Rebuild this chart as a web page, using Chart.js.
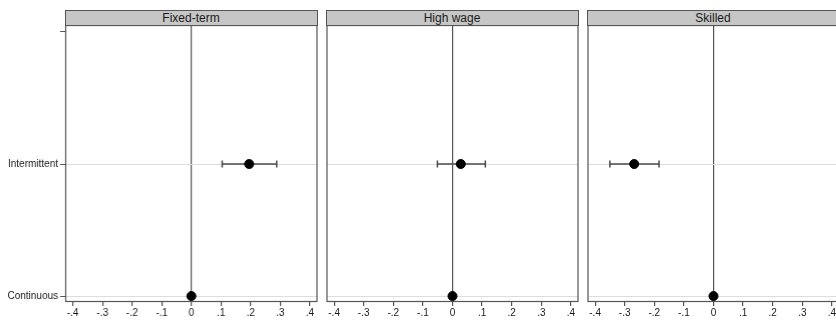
<!DOCTYPE html>
<html>
<head>
<meta charset="utf-8">
<script src="https://cdn.jsdelivr.net/npm/chart.js@4.4.1/dist/chart.umd.min.js"></script>
<style>
	html, body { margin: 0; padding: 0; background: #fff; }
	#wrap { position: relative; width: 836px; height: 320px; overflow: hidden; }
	.panel { position: absolute; top: 0; height: 320px; }
	.hdr {
		position: absolute; top: 10px; height: 16px; width: 253px; box-sizing: border-box;
		background: #c6c6c6; border: 1px solid #555; border-bottom-width: 1.5px;
		font: 12px "Liberation Sans", Arial, sans-serif; color: #1a1a1a;
		text-align: center; line-height: 14px;
	}
</style>
</head>
<body>
<div id="wrap"></div>
<script>
	'use strict';

	// panel titles and y categories
	var panels = ['Fixed-term', 'High wage', 'Skilled'];
	var categories = ['Continuous', 'Intermittent', ''];

	// Intermittent estimates with confidence intervals, one per panel
	var estimates = [0.195, 0.028, -0.268];
	var ciLow = [0.104, -0.051, -0.35];
	var ciHigh = [0.288, 0.111, -0.184];

	// Continuous is the reference category
	var baseline = [0, 0, 0];

	var xTicks = [-0.4, -0.3, -0.2, -0.1, 0, 0.1, 0.2, 0.3, 0.4];

	var FONT = '"Liberation Sans", Arial, sans-serif';
	var DARK = '#555';

	// left edge of each canvas and its plot area (page px)
	var canvasLeft = [0, 320, 581];
	var canvasWidth = [320, 261, 261];
	var plotLeft = [65, 326, 587];
	var plotWidth = 252;

	var framePlugin = {
		id: 'frame',
		afterDraw: function (chart) {
			var a = chart.chartArea;
			var ctx = chart.ctx;
			ctx.save();
			ctx.strokeStyle = DARK;
			ctx.lineWidth = 1.2;
			ctx.strokeRect(a.left + 0.5, a.top + 0.5, a.right - a.left - 1, a.bottom - a.top - 1);
			ctx.restore();
		}
	};

	function fmtTick(v) {
		if (Math.abs(v) < 1e-9) return '0';
		return (v < 0 ? '-' : '') + '.' + Math.round(Math.abs(v) * 10);
	}

	function buildChart(cv, i) {
		var first = i === 0;
		return new Chart(cv, {
			type: 'scatter',
			data: {
				datasets: [
					{
						// error bar with vertical caps
						data: [{ x: ciLow[i], y: 1 }, { x: ciHigh[i], y: 1 }],
						showLine: true,
						borderColor: '#4a4a4a',
						borderWidth: 1.5,
						pointStyle: 'line',
						rotation: 90,
						pointRadius: 3.5,
						pointBorderColor: '#4a4a4a',
						pointBorderWidth: 1.5,
						order: 2
					},
					{
						data: [{ x: baseline[i], y: 0 }, { x: estimates[i], y: 1 }],
						backgroundColor: '#000',
						borderColor: '#000',
						pointRadius: 4.5,
						order: 1
					}
				]
			},
			options: {
				responsive: false,
				maintainAspectRatio: false,
				animation: false,
				devicePixelRatio: 1,
				layout: { padding: { left: 0, right: 0, top: 25, bottom: 0 } },
				plugins: { legend: { display: false }, tooltip: { enabled: false } },
				scales: {
					x: {
						type: 'linear',
						min: -0.4257,
						max: 0.4257,
						afterBuildTicks: function (s) {
							s.ticks = xTicks.map(function (v) { return { value: v }; });
						},
						afterFit: function (s) { s.height = 18; },
						border: { display: false },
						grid: {
							color: function (c) { return c.tick && Math.abs(c.tick.value) < 1e-9 ? DARK : 'rgba(0,0,0,0)'; },
							lineWidth: 1.2,
							tickColor: DARK,
							tickLength: 4
						},
						ticks: {
							padding: 1,
							maxRotation: 0,
							autoSkip: false,
							color: '#1a1a1a',
							font: { family: FONT, size: 10 },
							callback: fmtTick
						}
					},
					y: {
						type: 'linear',
						min: -0.045,
						max: 2.053,
						afterBuildTicks: function (s) {
							s.ticks = [0, 1, 2].map(function (v) { return { value: v }; });
						},
						afterFit: function (s) { s.width = first ? 65 : 0; },
						border: { display: false },
						grid: {
							color: function (c) { return c.tick && c.tick.value < 2 ? '#dddddd' : 'rgba(0,0,0,0)'; },
							lineWidth: 1,
							drawTicks: first,
							tickColor: DARK,
							tickLength: 5
						},
						ticks: {
							display: first,
							padding: 2,
							autoSkip: false,
							color: '#1a1a1a',
							font: { family: FONT, size: 10 },
							callback: function (v) { return categories[v] !== undefined ? categories[v] : ''; }
						}
					}
				}
			},
			plugins: [framePlugin]
		});
	}

	function makePanel(i) {
		var wrap = document.getElementById('wrap');
		var box = document.createElement('div');
		box.className = 'panel';
		var cv = document.createElement('canvas');
		box.appendChild(cv);
		wrap.appendChild(box);

		var hdr = document.createElement('div');
		hdr.className = 'hdr';
		hdr.style.left = (plotLeft[i] - 0.5) + 'px';
		hdr.textContent = panels[i];
		wrap.appendChild(hdr);

		var left = canvasLeft[i];
		var w = canvasWidth[i];
		function setSize() {
			box.style.left = left + 'px';
			box.style.width = w + 'px';
			cv.width = w;
			cv.height = 320;
			cv.style.width = w + 'px';
			cv.style.height = '320px';
		}
		setSize();
		var chart = buildChart(cv, i);

		// line the plot area up with the panel frame, then rebuild once
		var a = chart.chartArea;
		var dl = plotLeft[i] - (left + a.left);
		var dr = (plotLeft[i] + plotWidth) - (left + dl + a.right);
		if (dl !== 0 || dr !== 0) {
			chart.destroy();
			left += dl;
			w += dr;
			setSize();
			buildChart(cv, i);
		}
	}

	panels.forEach(function (p, i) {
		makePanel(i);
	});
</script>
</body>
</html>
